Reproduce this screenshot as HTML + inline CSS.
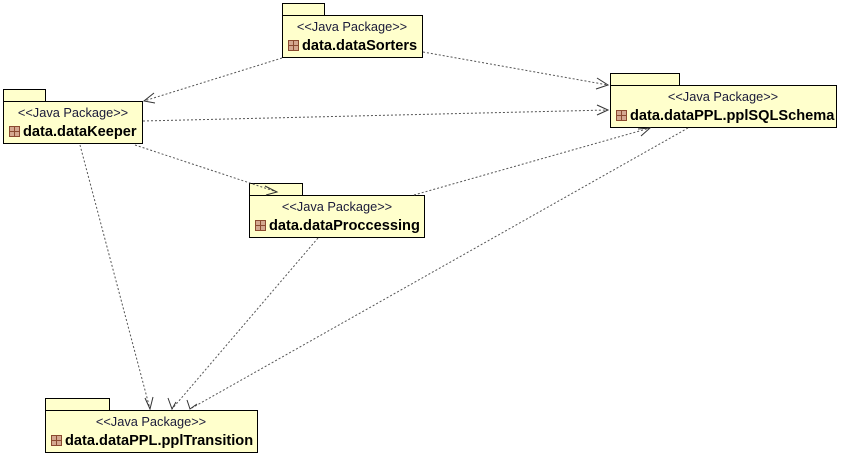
<!DOCTYPE html>
<html><head><style>
body{margin:0;background:#fff;width:843px;height:456px;overflow:hidden}
svg{position:absolute;left:0;top:0}
text{font-family:"Liberation Sans",sans-serif}
.st{font-size:12.8px;fill:#1a1a3a}
.nm{font-size:14.6px;font-weight:bold;fill:#000}
</style></head><body>
<svg width="843" height="456" viewBox="0 0 843 456">
<defs>
<g id="ic"><rect x="0.5" y="0.5" width="10" height="10" fill="#d4a890" stroke="#8a4a30"/><line x1="5.5" y1="0.5" x2="5.5" y2="10.5" stroke="#8a4a30"/><line x1="0.5" y1="5.5" x2="10.5" y2="5.5" stroke="#8a4a30"/></g>
</defs>
<g fill="#ffffcc" stroke="#000">
<rect x="282.5" y="3.5" width="42" height="12"/><rect x="282.5" y="15.5" width="140" height="42"/>
<rect x="3.5" y="89.5" width="42" height="12"/><rect x="3.5" y="101.5" width="139" height="42"/>
<rect x="249.5" y="183.5" width="53" height="12"/><rect x="249.5" y="195.5" width="175" height="42"/>
<rect x="610.5" y="73.5" width="69" height="12"/><rect x="610.5" y="85.5" width="226" height="42"/>
<rect x="45.5" y="398.5" width="64" height="12"/><rect x="45.5" y="410.5" width="212" height="42"/>
</g>
<g stroke="#555" stroke-width="1" stroke-dasharray="2,2" fill="none">
<line x1="282" y1="58" x2="144" y2="101"/>
<line x1="423" y1="52" x2="608" y2="85"/>
<line x1="143" y1="121" x2="608" y2="110"/>
<line x1="135" y1="145" x2="277" y2="192"/>
<line x1="414" y1="195" x2="650" y2="128"/>
<line x1="80" y1="145" x2="150" y2="409"/>
<line x1="318" y1="238" x2="172" y2="409"/>
<line x1="688" y1="128" x2="190" y2="409"/>
</g>
<g stroke="#333" stroke-width="1" fill="none">
<polyline points="154,93 144,101 155,103"/>
<polyline points="597,78 608,85 596,89"/>
<polyline points="597,105 608,110 597,115"/>
<polyline points="265,186 277,192 266,195"/>
<polyline points="638,129 650,128 641,136"/>
<polyline points="145,398 150,409 153,397"/>
<polyline points="168,398 172,409 176,402"/>
<polyline points="187,400 190,409 197,404"/>
</g>
<text class="st" x="352" y="31" text-anchor="middle">&lt;&lt;Java Package&gt;&gt;</text>
<use href="#ic" x="288" y="40"/><text class="nm" x="302" y="50">data.dataSorters</text>
<text class="st" x="73" y="117" text-anchor="middle">&lt;&lt;Java Package&gt;&gt;</text>
<use href="#ic" x="9" y="126"/><text class="nm" x="23" y="136">data.dataKeeper</text>
<text class="st" x="337" y="211" text-anchor="middle">&lt;&lt;Java Package&gt;&gt;</text>
<use href="#ic" x="255" y="220"/><text class="nm" x="269" y="230">data.dataProccessing</text>
<text class="st" x="723" y="101" text-anchor="middle">&lt;&lt;Java Package&gt;&gt;</text>
<use href="#ic" x="616" y="110"/><text class="nm" x="630" y="120">data.dataPPL.pplSQLSchema</text>
<text class="st" x="151" y="426" text-anchor="middle">&lt;&lt;Java Package&gt;&gt;</text>
<use href="#ic" x="51" y="435"/><text class="nm" x="65" y="445">data.dataPPL.pplTransition</text>
</svg>
</body></html>
